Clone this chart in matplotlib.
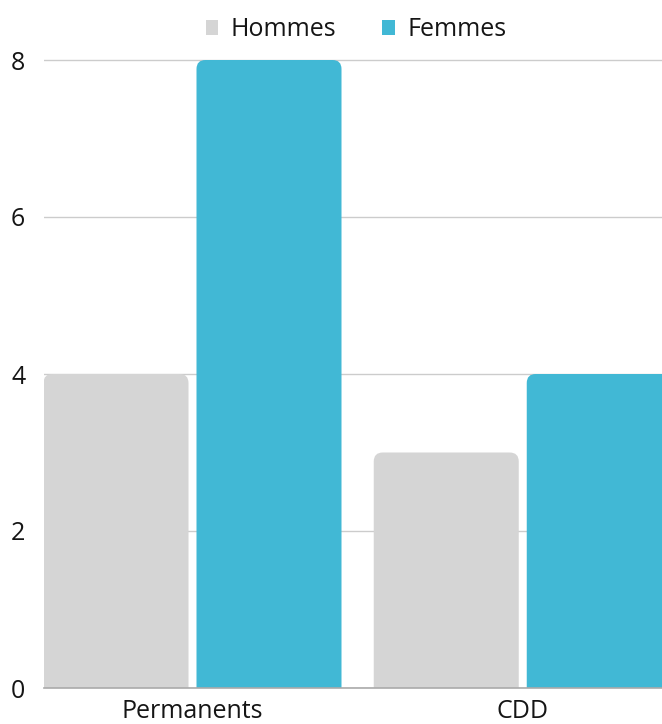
import matplotlib.pyplot as plt
from matplotlib.patches import FancyBboxPatch, Patch
import numpy as np

plt.rcParams['font.family'] = ['Open Sans', 'DejaVu Sans']

categories = ["Permanents", "CDD"]
series_names = ["Hommes", "Femmes"]
hommes = [4, 3]
femmes = [8, 4]
y_ticks = [0, 2, 4, 6, 8]

colors = ["#d5d5d5", "#41b8d5"]
text_color = "#151515"
fs = 18

W, H = 662, 724
fig = plt.figure(figsize=(W / 100, H / 100), dpi=100)

# axes placed in pixel terms: plot area from x=44 to the right edge, y=0 at 688px, y=8 at 60px
px_per_unit_y = (688 - 60) / 8
top_px = 50
ymax = 8 + (60 - top_px) / px_per_unit_y
ax = fig.add_axes([44 / W, (H - 688) / H, (W - 44) / W, (688 - top_px) / H])

px_per_cat = 330.25
group_center0 = 192.5
xmin = (44 - group_center0) / px_per_cat
xmax = (W - group_center0) / px_per_cat
ax.set_xlim(xmin, xmax)
ax.set_ylim(0, ymax)

bar_w = 145 / px_per_cat
offset = (145 + 8) / 2 / px_per_cat
radius_px = 9
rx = radius_px / px_per_cat
ry = radius_px / px_per_unit_y

x = np.arange(len(categories))
for i, (vals, col) in enumerate(zip([hommes, femmes], colors)):
    for xi, v in zip(x, vals):
        left = xi + (i * 2 - 1) * offset - bar_w / 2
        # extend below zero so the bottom corners get clipped by the axes
        p = FancyBboxPatch((left, -ry * 2), bar_w, v + ry * 2,
                           boxstyle=f"round,pad=0,rounding_size={rx}",
                           mutation_aspect=ry / rx,
                           facecolor=col, edgecolor="none", zorder=2)
        ax.add_patch(p)

ax.set_yticks(y_ticks)
ax.set_yticklabels([str(t) for t in y_ticks])
ax.set_xticks(x)
ax.set_xticklabels(categories)
ax.tick_params(axis="y", length=0, pad=13.5, labelsize=fs, labelcolor=text_color)
ax.tick_params(axis="x", length=0, pad=8, labelsize=fs, labelcolor=text_color)
for lab in ax.get_yticklabels():
    lab.set_horizontalalignment("right")

ax.yaxis.grid(True, color="#cccccc", linewidth=1)
ax.set_axisbelow(True)
for s in ax.spines.values():
    s.set_visible(False)
ax.axhline(0, color="#aaaaaa", linewidth=1.2, zorder=3, clip_on=False)

handles = [Patch(facecolor=c, edgecolor="none") for c in colors]
fig.legend(handles, series_names, loc="center",
           bbox_to_anchor=(356 / W, 1 - 29.5 / H), ncol=2, frameon=False,
           fontsize=fs, handlelength=0.5, handleheight=0.55,
           handletextpad=0.5, columnspacing=1.85, labelcolor=text_color)

fig.savefig("out.png", dpi=100)
